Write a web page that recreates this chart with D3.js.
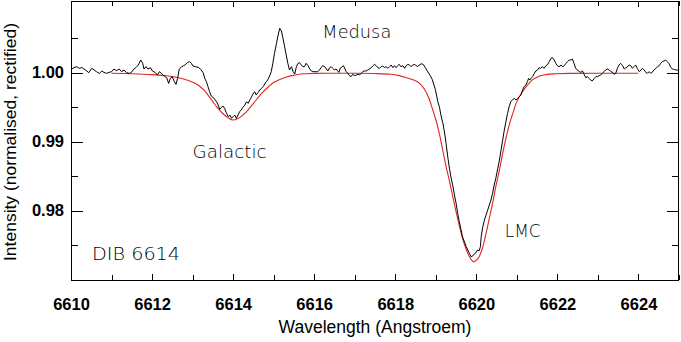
<!DOCTYPE html>
<html>
<head>
<meta charset="utf-8">
<script src="https://cdn.jsdelivr.net/npm/d3@7/dist/d3.min.js"></script>
<style>
  html, body { margin: 0; padding: 0; background: #fff; }
  svg { display: block; }
  .tick text { font-family: "Liberation Sans", Arial, Helvetica, sans-serif; font-weight: bold; font-size: 16.5px; fill: #000; }
  .tick line { stroke: #000; stroke-width: 1; shape-rendering: crispEdges; }
  .title { font-family: "Liberation Sans", Arial, Helvetica, sans-serif; font-size: 17.5px; fill: #000; }
  .ytitle { font-family: "Liberation Sans", Arial, Helvetica, sans-serif; font-size: 17px; fill: #000; }
  .note { font-family: "DejaVu Sans", sans-serif; font-weight: 200; font-size: 17.5px; fill: #000; }
</style>
</head>
<body>
<script>
// ---- Data ----
const obsWave = [
6610.02,6610.07,6610.14,6610.21,6610.26,6610.32,6610.39,6610.44,6610.51,6610.57,6610.63,6610.70,6610.76,6610.81,6610.88,6610.94,
6611.00,6611.06,6611.12,6611.19,6611.25,6611.31,6611.37,6611.44,6611.49,6611.55,6611.60,6611.66,6611.72,6611.77,6611.80,6611.85,6611.90,6611.96,
6612.01,6612.07,6612.13,6612.18,6612.23,6612.29,6612.36,6612.41,6612.45,6612.50,6612.55,6612.59,6612.63,6612.67,6612.73,6612.78,
6612.81,6612.87,6612.93,6612.97,6613.01,6613.07,6613.14,6613.20,6613.26,6613.30,6613.34,6613.38,6613.42,6613.46,6613.53,6613.59,6613.63,6613.67,6613.71,6613.75,6613.79,6613.83,6613.88,6613.92,6613.96,
6614.00,6614.04,6614.08,6614.12,6614.16,6614.20,6614.24,6614.29,6614.33,6614.37,6614.41,6614.45,6614.49,6614.53,6614.57,6614.61,6614.66,6614.70,6614.74,6614.78,6614.82,6614.86,6614.90,6614.94,6614.98,
6615.02,6615.07,6615.11,6615.15,6615.19,6615.23,6615.27,6615.31,6615.35,6615.39,6615.44,6615.48,6615.52,6615.56,6615.60,6615.64,6615.68,6615.72,6615.76,
6615.80,6615.85,6615.89,6615.93,6615.98,6616.05,6616.09,6616.13,6616.17,6616.21,6616.26,6616.30,6616.34,6616.38,6616.42,6616.46,6616.50,6616.54,6616.58,6616.61,6616.64,6616.69,6616.72,6616.76,6616.79,6616.83,6616.87,6616.91,6616.95,
6617.00,6617.04,6617.08,6617.12,6617.16,6617.20,6617.24,6617.28,6617.32,6617.36,6617.41,6617.45,6617.49,6617.53,6617.57,6617.61,6617.65,6617.69,6617.73,6617.77,6617.82,6617.86,6617.90,6617.94,6617.98,
6618.02,6618.06,6618.10,6618.14,6618.19,6618.23,6618.27,6618.31,6618.35,6618.39,6618.43,6618.47,
6618.55,6618.64,6618.69,6618.74,6618.80,6618.86,6618.91,6618.94,6618.99,
6619.05,6619.09,6619.13,6619.17,6619.21,6619.25,6619.30,6619.34,6619.38,6619.42,6619.46,6619.50,6619.54,6619.58,6619.62,6619.66,6619.70,6619.75,6619.79,6619.83,6619.87,6619.91,6619.95,6619.99,
6620.03,6620.07,6620.10,6620.12,6620.16,6620.20,6620.24,6620.28,6620.32,6620.36,6620.40,6620.44,6620.48,6620.53,6620.57,6620.61,6620.65,6620.69,6620.73,6620.77,6620.81,6620.85,6620.90,6620.94,6620.98,
6621.02,6621.06,6621.10,6621.14,6621.18,6621.22,6621.26,6621.29,6621.32,6621.35,6621.39,6621.43,6621.47,6621.51,6621.55,6621.59,6621.63,6621.67,6621.72,6621.76,6621.80,6621.84,6621.88,6621.92,6621.96,
6622.00,6622.04,6622.09,6622.13,6622.17,6622.21,6622.25,6622.29,6622.33,6622.37,6622.41,6622.45,6622.50,6622.54,6622.58,6622.62,6622.66,6622.70,6622.74,6622.78,6622.82,6622.86,6622.91,6622.95,6622.99,
6623.03,6623.07,6623.11,6623.15,6623.19,6623.23,6623.28,6623.32,6623.36,6623.40,6623.44,6623.48,6623.52,6623.56,6623.61,6623.65,6623.69,6623.73,6623.77,6623.81,6623.85,6623.89,6623.93,6623.97,
6624.02,6624.06,6624.10,6624.14,6624.18,6624.22,6624.26,6624.30,6624.34,6624.38,6624.43,6624.47,6624.51,6624.55,6624.59,6624.63,6624.67,6624.71,6624.75,6624.80,6624.84,6624.88,6624.92,6624.98
];
const obsFlux = [
1.00053,1.00072,1.00087,1.00063,1.00077,1.00053,1.00024,1.00000,1.00063,1.00039,1.00014,0.99990,1.00024,1.00005,0.99990,1.00005,
1.00014,1.00053,1.00029,1.00053,1.00014,1.00039,1.00000,0.99990,1.00005,1.00053,1.00072,1.00111,1.00184,1.00135,1.00053,1.00087,1.00053,1.00072,
1.00024,1.00005,0.99966,1.00014,0.99990,0.99957,0.99928,0.99845,0.99918,0.99942,0.99870,0.99831,0.99918,1.00053,1.00087,1.00101,
1.00112,1.00145,1.00160,1.00136,1.00097,1.00087,1.00078,1.00049,1.00000,0.99918,0.99870,0.99798,0.99725,0.99662,0.99629,0.99580,0.99532,0.99469,0.99498,0.99517,0.99484,0.99421,0.99363,0.99387,0.99339,
0.99363,0.99387,0.99339,0.99387,0.99435,0.99460,0.99498,0.99532,0.99580,0.99556,0.99604,0.99643,0.99691,0.99725,0.99677,0.99711,0.99749,0.99774,0.99798,0.99836,0.99870,0.99904,0.99952,1.00015,1.00136,
1.00281,1.00426,1.00546,1.00643,1.00609,1.00498,1.00377,1.00256,1.00136,1.00039,1.00087,1.00015,0.99981,1.00087,1.00136,1.00145,1.00112,1.00087,1.00087,
1.00136,1.00102,1.00054,1.00025,1.00015,1.00015,1.00015,1.00039,1.00073,1.00102,1.00087,1.00054,1.00025,1.00073,1.00087,1.00063,1.00039,1.00054,1.00025,1.00005,1.00063,1.00087,1.00102,1.00054,1.00015,0.99991,0.99957,0.99943,0.99976,
0.99957,0.99967,0.99976,0.99967,0.99991,1.00015,1.00025,1.00025,1.00039,1.00054,1.00073,1.00102,1.00121,1.00102,1.00073,1.00063,1.00087,1.00097,1.00073,1.00087,1.00063,1.00087,1.00112,1.00073,1.00102,
1.00073,1.00102,1.00121,1.00087,1.00102,1.00063,1.00102,1.00121,1.00112,1.00087,1.00112,1.00121,
1.00090,1.00130,1.00120,1.00075,1.00015,0.99960,0.99905,0.99850,0.99755,
0.99580,0.99500,0.99375,0.99280,0.99158,0.98990,0.98760,0.98600,0.98470,0.98360,0.98227,0.98110,0.97960,0.97840,0.97732,0.97620,0.97560,0.97480,0.97430,0.97381,0.97333,0.97343,0.97375,0.97391,
0.97430,0.97420,0.97478,0.97623,0.97768,0.97864,0.97937,0.98009,0.98082,0.98154,0.98251,0.98372,0.98469,0.98613,0.98734,0.98879,0.99024,0.99169,0.99290,0.99410,0.99507,0.99580,0.99614,0.99628,0.99604,
0.99628,0.99652,0.99676,0.99749,0.99797,0.99821,0.99870,0.99918,0.99894,0.99918,0.99943,0.99991,1.00025,1.00039,1.00073,1.00063,1.00087,1.00063,1.00102,1.00121,1.00160,1.00208,1.00218,1.00184,1.00136,
1.00102,1.00087,1.00112,1.00087,1.00102,1.00136,1.00160,1.00184,1.00184,1.00198,1.00136,1.00063,1.00039,1.00015,1.00005,1.00025,0.99977,0.99928,0.99943,0.99918,0.99894,0.99880,0.99918,0.99943,0.99943,
0.99957,0.99967,0.99991,1.00015,1.00039,1.00054,1.00039,1.00015,1.00005,0.99977,0.99991,1.00063,1.00112,1.00136,1.00102,1.00054,1.00073,1.00087,1.00112,1.00102,1.00063,1.00087,1.00112,1.00063,
1.00015,1.00039,1.00063,1.00039,1.00005,0.99991,1.00015,0.99991,1.00005,1.00039,1.00063,1.00087,1.00102,1.00136,1.00160,1.00170,1.00184,1.00160,1.00136,1.00073,1.00054,1.00049,1.00039,1.00039
];
const fitWave = [
6611.00,6611.50,6612.00,6612.30,6612.60,6612.80,6613.00,6613.15,6613.30,6613.45,6613.60,6613.75,6613.88,6614.00,6614.12,6614.25,6614.37,6614.50,6614.62,6614.75,6614.88,
6615.00,6615.15,6615.30,6615.45,6615.60,6615.80,6616.00,6616.50,6617.00,6617.50,6617.90,6618.10,6618.30,6618.47,6618.60,6618.72,6618.84,6618.92,
6619.01,6619.09,6619.17,6619.25,6619.34,6619.42,6619.50,6619.58,6619.66,6619.75,6619.83,6619.91,6619.95,6619.99,6620.07,6620.16,6620.24,6620.32,6620.40,6620.48,6620.57,6620.65,6620.73,6620.81,6620.90,6620.98,
6621.06,6621.14,6621.22,6621.39,6621.55,6621.72,6621.96,6622.30,6623.00,6624.00
];
const fitFlux = [
0.99992,0.99985,0.99972,0.99958,0.99935,0.99905,0.99862,0.99815,0.99735,0.99620,0.99500,0.99405,0.99345,0.99315,0.99338,0.99390,0.99462,0.99555,0.99643,0.99728,0.99800,
0.99858,0.99900,0.99935,0.99958,0.99975,0.99985,0.99990,0.99992,0.99992,0.99988,0.99978,0.99958,0.99922,0.99890,0.99846,0.99760,0.99615,0.99470,
0.99300,0.99110,0.98880,0.98650,0.98420,0.98200,0.97985,0.97780,0.97600,0.97442,0.97333,0.97268,0.97261,0.97278,0.97333,0.97478,0.97671,0.97889,0.98106,0.98348,0.98589,0.98831,0.99048,0.99241,0.99410,0.99555,
0.99652,0.99725,0.99790,0.99900,0.99950,0.99972,0.99984,0.99990,0.99991,0.99991
];
const xMajorTicks = [6610, 6612, 6614, 6616, 6618, 6620, 6622, 6624];
const xMinorTicks = [6611, 6613, 6615, 6617, 6619, 6621, 6623, 6625];
const yMajorTicks = [0.98, 0.99, 1.00];
const yMinorTicks = [0.975, 0.985, 0.995, 1.005];
const notes = [
  { text: "Medusa",   wave: 6616.2,  flux: 1.00506, width: 69 },
  { text: "Galactic", wave: 6613.0,  flux: 0.98762, width: 74 },
  { text: "LMC",      wave: 6620.7,  flux: 0.97624, width: 36 },
  { text: "DIB 6614", wave: 6610.52, flux: 0.97284, width: 88 }
];

// ---- Layout ----
const W = 681, H = 342;
const m = { left: 71, top: 1, right: 679, bottom: 280 };

const svg = d3.select("body").append("svg").attr("width", W).attr("height", H);

const x = d3.scaleLinear().domain([6610, 6625]).range([m.left, m.right]);
const y = d3.scaleLinear().domain([0.96996, 1.01039]).range([m.bottom, m.top]);

// Axes (ticks inward on all four sides)
svg.append("g").attr("transform", `translate(0,${m.bottom})`)
  .call(d3.axisBottom(x).tickValues(xMajorTicks).tickSizeInner(-6).tickSizeOuter(0).tickPadding(18).tickFormat(d3.format("d")))
  .call(g => g.select(".domain").remove());
svg.append("g").attr("transform", `translate(0,${m.bottom})`)
  .call(d3.axisBottom(x).tickValues(xMinorTicks).tickSizeInner(-5).tickSizeOuter(0).tickFormat(""))
  .call(g => g.select(".domain").remove());
svg.append("g").attr("transform", `translate(0,${m.top})`)
  .call(d3.axisTop(x).tickValues(xMajorTicks).tickSizeInner(-6).tickSizeOuter(0).tickFormat(""))
  .call(g => g.select(".domain").remove());
svg.append("g").attr("transform", `translate(0,${m.top})`)
  .call(d3.axisTop(x).tickValues(xMinorTicks).tickSizeInner(-5).tickSizeOuter(0).tickFormat(""))
  .call(g => g.select(".domain").remove());

svg.append("g").attr("transform", `translate(${m.left},0)`)
  .call(d3.axisLeft(y).tickValues(yMajorTicks).tickSizeInner(-12).tickSizeOuter(0).tickPadding(7).tickFormat(d3.format(".2f")))
  .call(g => g.select(".domain").remove());
svg.append("g").attr("transform", `translate(${m.left},0)`)
  .call(d3.axisLeft(y).tickValues(yMinorTicks).tickSizeInner(-7).tickSizeOuter(0).tickFormat(""))
  .call(g => g.select(".domain").remove());
svg.append("g").attr("transform", `translate(${m.right},0)`)
  .call(d3.axisRight(y).tickValues(yMajorTicks).tickSizeInner(-12).tickSizeOuter(0).tickFormat(""))
  .call(g => g.select(".domain").remove());
svg.append("g").attr("transform", `translate(${m.right},0)`)
  .call(d3.axisRight(y).tickValues(yMinorTicks).tickSizeInner(-7).tickSizeOuter(0).tickFormat(""))
  .call(g => g.select(".domain").remove());

// Frame
svg.append("rect")
  .attr("x", m.left + 0.5).attr("y", m.top + 0.5)
  .attr("width", m.right - m.left - 1).attr("height", m.bottom - m.top)
  .attr("fill", "none").attr("stroke", "#000").attr("stroke-width", 1);

// Axis titles
svg.append("text").attr("class", "title")
  .attr("x", (m.left + m.right) / 2).attr("y", 333)
  .attr("text-anchor", "middle").text("Wavelength (Angstroem)");
svg.append("text").attr("class", "ytitle")
  .attr("transform", `translate(15.5,${(m.top + m.bottom) / 2 + 1.5}) rotate(-90)`)
  .attr("text-anchor", "middle")
  .attr("textLength", 238).attr("lengthAdjust", "spacingAndGlyphs")
  .text("Intensity (normalised, rectified)");

// Lines
const obs = obsWave.map((w, i) => [w, obsFlux[i]]);
const fit = fitWave.map((w, i) => [w, fitFlux[i]]);

svg.append("path").datum(fit)
  .attr("fill", "none").attr("stroke", "#e3241f").attr("stroke-width", 1.1)
  .attr("d", d3.line().x(d => x(d[0])).y(d => y(d[1])).curve(d3.curveMonotoneX));

svg.append("path").datum(obs)
  .attr("fill", "none").attr("stroke", "#000").attr("stroke-width", 1)
  .attr("stroke-linejoin", "round")
  .attr("d", d3.line().x(d => x(d[0])).y(d => y(d[1])));

// Annotations
svg.selectAll("text.note").data(notes).join("text")
  .attr("class", "note")
  .attr("x", d => x(d.wave)).attr("y", d => y(d.flux))
  .attr("textLength", d => d.width).attr("lengthAdjust", "spacingAndGlyphs")
  .text(d => d.text);
</script>
</body>
</html>
